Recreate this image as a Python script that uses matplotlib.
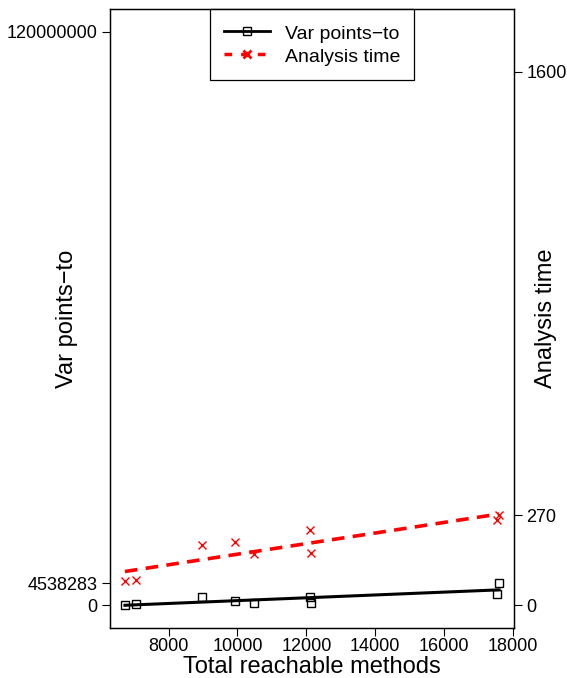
import numpy as np
import matplotlib
matplotlib.use("Agg")
import matplotlib.pyplot as plt
from matplotlib.lines import Line2D

plt.rcParams["font.family"] = ["Liberation Sans", "DejaVu Sans"]

# data
methods = [6733, 7043, 8957, 9922, 10493, 12116, 12145, 17527, 17594]
var_points_to = [30000, 150000, 1600000, 840000, 420000, 1800000, 480000, 2300000, 4538283]
analysis_time = [71, 74, 180, 189, 153, 226, 156, 255, 270]

left_ticks = [0, 4538283, 120000000]
right_ticks = [0, 270, 1600]
x_ticks = [8000, 10000, 12000, 14000, 16000, 18000]

x = np.array(methods, dtype=float)
v = np.array(var_points_to, dtype=float)
t = np.array(analysis_time, dtype=float)

fig = plt.figure(figsize=(5.67, 6.78), dpi=100)
ax = fig.add_axes([0.194, 0.0737, 0.7125, 0.913])
ax2 = ax.twinx()

# linear fits
xs = np.array([x.min(), x.max()])
kv = np.polyfit(x, v, 1)
kt = np.polyfit(x, t, 1)

ax.plot(x, v, ls="none", marker="s", ms=6, mfc="none", mec="black", mew=1)
ax.plot(xs, np.polyval(kv, xs), color="black", lw=2.2)

ax2.plot(x, t, ls="none", marker="x", ms=6, color="red", mew=1)
ax2.plot(xs, np.polyval(kt, xs), color="red", lw=2.6, dashes=(3.5, 2.3))

pad = 0.04 * (x.max() - x.min())
ax.set_xlim(x.min() - pad, x.max() + pad)
ax.set_ylim(-0.04 * 1.2e8, 1.04 * 1.2e8)
ax2.set_ylim(-0.04 * 1720, 1.04 * 1720)

ax.set_xticks(x_ticks)
ax.set_yticks(left_ticks)
ax.set_yticklabels([str(v_) for v_ in left_ticks])
ax2.set_yticks(right_ticks)
ax2.set_yticklabels([str(v_) for v_ in right_ticks])

for a in (ax, ax2):
    a.tick_params(direction="out", length=6, width=0.8, labelsize=13, pad=3)
    for s in a.spines.values():
        s.set_linewidth(0.9)
ax.tick_params(axis="x", pad=1.5)

ax.set_xlabel("Total reachable methods", fontsize=17, va="center")
ax.xaxis.set_label_coords(0.5, -0.0625)
ax.set_ylabel("Var points\u2212to", fontsize=17, va="center")
ax.yaxis.set_label_coords(-0.106, 0.5)
ax2.set_ylabel("Analysis time", fontsize=17, va="center")
ax2.yaxis.set_label_coords(1.08, 0.5)

handles = [
    Line2D([], [], color="black", lw=2, marker="s", ms=6, mfc="none", mec="black"),
    Line2D([], [], color="red", lw=2.5, dashes=(2.2, 2.6), marker="x", ms=6, mew=2),
]
leg = ax.legend(handles, ["Var points\u2212to", "Analysis time"], loc="upper center",
                bbox_to_anchor=(0.5, 1.0), borderaxespad=0, fancybox=False,
                edgecolor="black", framealpha=1, fontsize=14, numpoints=1,
                handlelength=2.4, handletextpad=0.75, handleheight=1.1,
                labelspacing=0.18, borderpad=0.72)
leg.get_frame().set_linewidth(0.9)

fig.savefig("out.png", dpi=100)
